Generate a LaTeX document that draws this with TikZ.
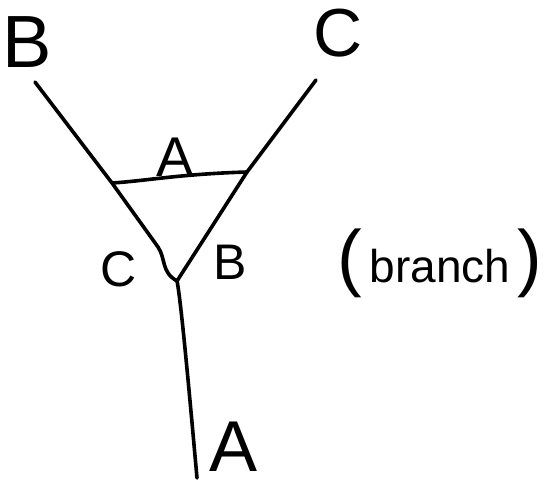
\documentclass[tikz,border=0pt]{standalone}
\usepackage{fontspec}
\setmainfont{Liberation Sans}
\tikzset{
  stroke/.style={line width=3.6pt,line cap=round,line join=round},
  tag/.style={inner sep=0pt,font=\fontsize{#1}{#1}\selectfont},
}
\newcommand{\bigparen}[1]{{\fontsize{74}{74}\selectfont#1}}

\begin{document}
\begin{tikzpicture}[x=1pt,y=-1pt]
  \useasboundingbox (0,0) rectangle (548,486);
  % free ends of the three arms
  \coordinate (topB) at (35,82);
  \coordinate (topC) at (316,80);
  \coordinate (foot) at (197,478);
  % corners of the triangle and the fork
  \coordinate (cornerL) at (112,183);
  \coordinate (cornerR) at (247,172);
  \coordinate (bendL) at (158,247);
  \coordinate (fork) at (177,281);
  \draw[stroke] (topB) -- (cornerL) -- (bendL) .. controls (166,259) and (161,272) .. (fork);
  \draw[stroke] (topC) -- (cornerR) -- (fork);
  \draw[stroke] (fork) .. controls (181,300) and (190,400) .. (foot);
  \draw[stroke] (cornerL) .. controls (145,181) and (180,174) .. (cornerR);
  % labels
  \node[tag=74] (lblB) at (27,42) {B};
  \node[tag=68] (lblC) at (338,33) {C};
  \node[tag=56] (lblA) at (175,157) {A};
  \node[tag=50] (lblCin) at (119,269) {C};
  \node[tag=50] (lblBin) at (230,262) {B};
  \node[tag=72] (lblAfoot) at (234,447) {A};
  \node[tag=46,anchor=base] (note) at (440,282) {\bigparen{(}\,branch\,\bigparen{)}};
\end{tikzpicture}
\end{document}
